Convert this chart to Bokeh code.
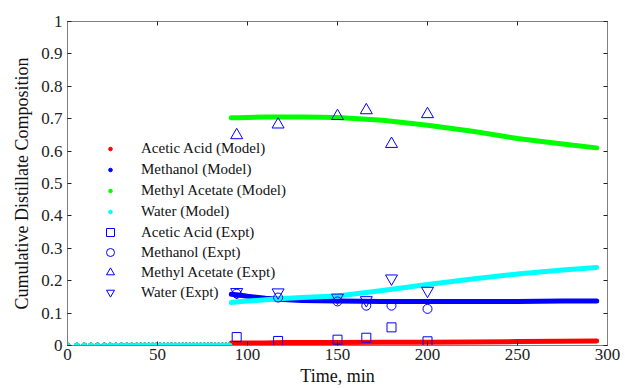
from bokeh.plotting import figure
from bokeh.models import Range1d, LinearAxis, FixedTicker, Legend, LegendItem
from bokeh.embed import file_html
from bokeh.resources import INLINE

# ---------------- data ----------------
x_ticks = [0, 50, 100, 150, 200, 250, 300]
y_ticks = [0, 0.1, 0.2, 0.3, 0.4, 0.5, 0.6, 0.7, 0.8, 0.9, 1.0]
y_tick_labels = ["0", "0.1", "0.2", "0.3", "0.4", "0.5", "0.6", "0.7", "0.8", "0.9", "1"]

# model output before distillate collection starts (all compositions zero)
t_pre = [0, 5.2, 9.3, 13, 16.7, 20.4, 23.7, 26.9, 30, 33, 35.7, 38.5, 40.7, 42.9,
         45.2, 47.3, 49.4, 51.5, 53.6, 55.7, 57.8, 59.9, 62, 64, 66, 68, 70, 72,
         74, 76, 78, 80, 82, 84, 86, 88, 90]
zero_pre = [0.0] * len(t_pre)

# model output after distillate collection starts
t_model = [91, 95, 100, 110, 120, 130, 150, 175, 200, 225, 250, 275, 294]
acetic_model = [0.008, 0.008, 0.008, 0.008, 0.009, 0.009, 0.009, 0.010, 0.010, 0.011, 0.012, 0.013, 0.014]
methanol_model = [0.158, 0.156, 0.152, 0.146, 0.142, 0.139, 0.137, 0.136, 0.136, 0.136, 0.136, 0.137, 0.137]
methyl_acetate_model = [0.703, 0.703, 0.704, 0.705, 0.705, 0.705, 0.704, 0.695, 0.680, 0.661, 0.639, 0.622, 0.610]
water_model = [0.133, 0.135, 0.137, 0.141, 0.145, 0.148, 0.153, 0.170, 0.188, 0.205, 0.221, 0.233, 0.241]

# experimental data
t_expt = [94, 117, 150, 166, 180, 200]
acetic_expt = [0.026, 0.014, 0.018, 0.024, 0.056, 0.013]
methanol_expt = [0.160, 0.148, 0.136, 0.123, 0.123, 0.113]
methyl_acetate_expt = [0.649, 0.682, 0.708, 0.726, 0.622, 0.714]
water_expt = [0.165, 0.164, 0.148, 0.140, 0.207, 0.169]

# ---------------- styling ----------------
FONT = "Liberation Serif"
RED, BLUE, GREEN, CYAN = "#ff0000", "#0000ff", "#00ff00", "#00ffff"
AXIS_COL = "#7f7f7f"

p = figure(width=625, height=388, output_backend="svg", toolbar_location=None,
           x_range=Range1d(0, 300), y_range=Range1d(0, 1),
           min_border_left=67, min_border_right=18, min_border_top=21, min_border_bottom=41)
p.background_fill_color = "white"
p.border_fill_color = "white"
p.outline_line_color = AXIS_COL
p.xgrid.visible = False
p.ygrid.visible = False

def style_axis(ax, ticks):
    ax.ticker = FixedTicker(ticks=ticks)
    ax.axis_line_color = AXIS_COL
    ax.major_tick_in = 4
    ax.major_tick_out = 0
    ax.major_tick_line_color = "#222222"
    ax.minor_tick_line_color = None
    ax.major_label_text_font = FONT
    ax.major_label_text_font_size = "17px"
    ax.major_label_text_color = "#222222"
    ax.axis_label_text_font = FONT
    ax.axis_label_text_font_size = "18px"
    ax.axis_label_text_font_style = "normal"
    ax.axis_label_text_color = "#111111"

xa = p.xaxis[0]
ya = p.yaxis[0]
style_axis(xa, x_ticks)
style_axis(ya, y_ticks)
xa.major_label_standoff = 3
ya.major_label_standoff = 5
ya.major_label_overrides = {t: s for t, s in zip(y_ticks, y_tick_labels)}
xa.axis_label = "Time, min"
ya.axis_label = "Cumulative Distillate Composition"
xa.axis_label_standoff = 3
ya.axis_label_standoff = 6

# tick marks on the top and right edges (no labels)
top_ax = LinearAxis()
style_axis(top_ax, x_ticks)
top_ax.major_label_overrides = {t: "" for t in x_ticks}
top_ax.major_label_standoff = 0
p.add_layout(top_ax, "above")
right_ax = LinearAxis()
style_axis(right_ax, y_ticks)
right_ax.major_label_overrides = {t: "" for t in y_ticks}
right_ax.major_label_standoff = 0
p.add_layout(right_ax, "right")

# ---------------- model curves ----------------
model = [(acetic_model, RED), (methanol_model, BLUE),
         (methyl_acetate_model, GREEN), (water_model, CYAN)]
dot_renderers = []
for vals, col in model:
    p.line(t_model, vals, line_color=col, line_width=5, line_join="round", line_cap="round")
for vals, col in model:
    r = p.scatter(t_pre, zero_pre, size=5, marker="circle", fill_color=col, line_color=col)
    dot_renderers.append(r)

# ---------------- experimental points ----------------
expt = [(acetic_expt, "square", 9), (methanol_expt, "circle", 9),
        (methyl_acetate_expt, "triangle", 12), (water_expt, "inverted_triangle", 12)]
expt_renderers = []
for vals, mk, sz in expt:
    r = p.scatter(t_expt, vals, marker=mk, size=sz, fill_color=None,
                  line_color=BLUE, line_width=1)
    expt_renderers.append(r)

# ---------------- legends ----------------
model_labels = ["Acetic Acid (Model)", "Methanol (Model)", "Methyl Acetate (Model)", "Water (Model)"]
expt_labels = ["Acetic Acid (Expt)", "Methanol (Expt)", "Methyl Acetate (Expt)", "Water (Expt)"]

def make_legend(labels, renderers, loc, gw, gh, lh, spacing, standoff):
    lg = Legend(items=[LegendItem(label=l, renderers=[r]) for l, r in zip(labels, renderers)],
                location=loc, orientation="vertical")
    lg.glyph_width = gw
    lg.glyph_height = gh
    lg.label_height = lh
    lg.spacing = spacing
    lg.label_standoff = standoff
    lg.padding = 0
    lg.margin = 0
    lg.border_line_color = None
    lg.background_fill_alpha = 0
    lg.label_text_font = FONT
    lg.label_text_font_size = "15px"
    lg.label_text_color = "#111111"
    return lg

leg_model = make_legend(model_labels, dot_renderers, (33, 125), 20, 9, 16, 4, 21)
leg_expt = make_legend(expt_labels, expt_renderers, (31, 43), 24, 20, 20, 0, 19)
p.add_layout(leg_model, "center")
p.add_layout(leg_expt, "center")

open("out.html", "w").write(file_html(p, INLINE))
